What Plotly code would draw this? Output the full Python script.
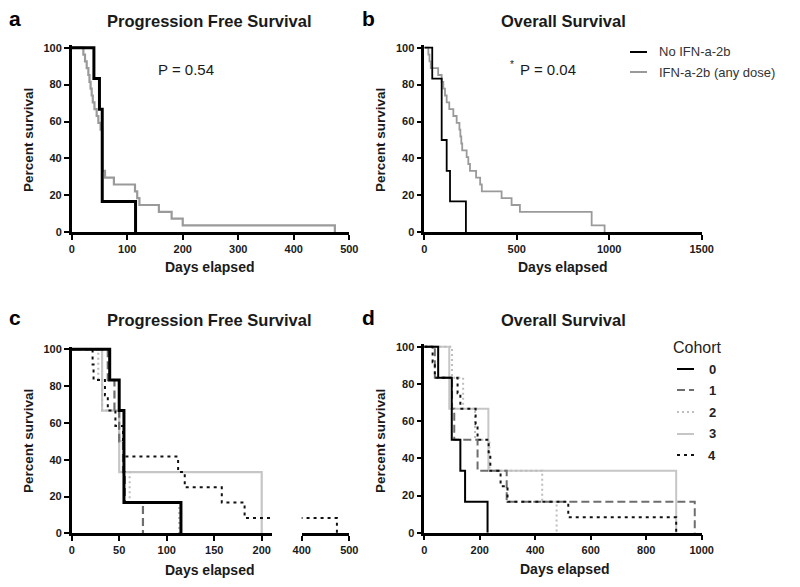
import plotly.graph_objects as go

# page body has an 8px default margin; figure is sized so it fills the 800x587 window
OFF = 8
W, H = 800 - OFF, 587 - OFF

# ---------------- data ----------------
# Panel a: Progression free survival
a_no_days = [40, 50, 55, 115]
a_no_surv = [83.3, 66.7, 16.7, 0]
a_ifn_days = [21, 24, 27, 30, 32, 34, 36, 38, 41, 45, 48, 52, 55, 60, 76, 114, 118, 122, 157, 180, 200, 474]
a_ifn_surv = [96.3, 92.6, 88.9, 85.2, 81.5, 77.8, 74.1, 70.4, 66.7, 63.0, 59.3, 55.6, 33.3, 29.6, 25.9, 22.2, 18.5, 14.8, 11.1, 7.4, 3.7, 0]

# Panel b: Overall survival
b_no_days = [43, 94, 121, 139, 225]
b_no_surv = [83.3, 50, 33.3, 16.7, 0]
b_ifn_days = [22, 28, 35, 75, 94, 103, 112, 121, 135, 157, 175, 190, 195, 200, 205, 229, 238, 247, 280, 302, 311, 418, 472, 517, 905, 975]
b_ifn_surv = [96.3, 92.6, 88.9, 85.2, 81.5, 77.8, 74.1, 70.4, 66.7, 63.0, 59.3, 55.6, 51.9, 48.1, 44.4, 40.7, 37.0, 33.3, 29.6, 25.9, 22.2, 18.5, 14.8, 11.1, 3.7, 0]

# Panel c: PFS by cohort
cohorts = ["0", "1", "2", "3", "4"]
c_days = [
    [40, 50, 55, 115],
    [38, 45, 50, 54, 56, 75],
    [28, 32, 50, 55, 61, 113],
    [32, 50, 200],
    [22, 23, 35, 38, 46, 54, 55, 112, 119, 158, 182, 474],
]
c_surv = [
    [83.3, 66.7, 16.7, 0],
    [83.3, 66.7, 50, 33.3, 16.7, 0],
    [83.3, 66.7, 50, 33.3, 16.7, 0],
    [66.7, 33.3, 0],
    [91.7, 83.3, 75, 66.7, 58.3, 50, 41.7, 33.3, 25, 16.7, 8.3, 0],
]

# Panel d: OS by cohort
d_days = [
    [50, 99, 130, 147, 228],
    [38, 100, 108, 192, 297, 975],
    [100, 140, 183, 235, 425, 477],
    [90, 231, 908],
    [30, 38, 120, 130, 185, 192, 232, 238, 275, 300, 519, 908],
]
d_surv = [
    [83.3, 50, 33.3, 16.7, 0],
    [83.3, 66.7, 50, 33.3, 16.7, 0],
    [83.3, 66.7, 50, 33.3, 16.7, 0],
    [66.7, 33.3, 0],
    [91.7, 83.3, 75, 66.7, 58.3, 50, 41.7, 33.3, 25, 16.7, 8.3, 0],
]

y_ticks = [0, 20, 40, 60, 80, 100]
a_xticks = [0, 100, 200, 300, 400, 500]
b_xticks = [0, 500, 1000, 1500]
c_xticks1 = [0, 50, 100, 150, 200]
c_xticks2 = [400, 500]
d_xticks = [0, 200, 400, 600, 800, 1000]

legend_b = ["No IFN-a-2b", "IFN-a-2b (any dose)"]

# ---------------- styles ----------------
FONT = "Liberation Sans, Arial, sans-serif"
INK = "#1a1a1a"
coh_color = ["#000000", "#6e6e6e", "#bdbdbd", "#c6c6c6", "#111111"]
coh_dash = ["solid", "8px,4px", "2px,3px", "solid", "3px,4px"]
coh_width_c = [3, 2.2, 2, 2.2, 2]
coh_width_d = [2, 2, 2, 2, 2]


def km(days, surv):
    return [0] + list(days), [100] + list(surv)


def px2x(px):
    return (px - OFF) / W


def px2y(py):
    return 1 - (py - OFF) / H


YMAX = 101.5


def ydomain(y0px, y100px):
    top = y0px - (YMAX / 100.0) * (y0px - y100px)
    return [px2y(y0px), px2y(top)]


fig = go.Figure()


def add_km(days, surv, xa, ya, color, width, dash="solid"):
    x, y = km(days, surv)
    fig.add_trace(go.Scatter(x=x, y=y, mode="lines", line_shape="hv",
                             line=dict(color=color, width=width, dash=dash),
                             xaxis=xa, yaxis=ya, showlegend=False, hoverinfo="skip"))


# panel a
add_km(a_ifn_days, a_ifn_surv, "x", "y", "#9a9a9a", 2.2)
add_km(a_no_days, a_no_surv, "x", "y", "#000000", 3)
# panel b
add_km(b_ifn_days, b_ifn_surv, "x2", "y2", "#9a9a9a", 1.8)
add_km(b_no_days, b_no_surv, "x2", "y2", "#000000", 1.8)
# panel c (broken axis: two x segments)
for i in [3, 2, 1, 4, 0]:
    for xa in ["x3", "x5"]:
        add_km(c_days[i], c_surv[i], xa, "y3", coh_color[i], coh_width_c[i], coh_dash[i])
# panel d
for i in [3, 2, 1, 4, 0]:
    add_km(d_days[i], d_surv[i], "x4", "y4", coh_color[i], coh_width_d[i], coh_dash[i])

axis_common = dict(showgrid=False, zeroline=False, showline=True, linecolor="black",
                   linewidth=2.5, ticks="outside", ticklen=5, tickwidth=2, tickcolor="black",
                   automargin=False,
                   tickfont=dict(family=FONT, size=11, color=INK, weight="bold"))

# pixel geometry of axes (window pixels)
A = dict(x0=71.7, x1=349.3, y0=232.3, y100=47.7)
B = dict(x0=424.3, x1=701.7, y0=232.3, y100=47.7)
C = dict(x0=71.7, y0=533.3, y100=349.3)
D = dict(x0=424.3, x1=701.7, y0=532.7, y100=346.7)
c_scale = 0.95  # px per day, first segment
c_seg1_max = 211
c_seg2 = (301.7, 349.3)

layout = dict(
    template="none",
    width=W, height=H, margin=dict(l=0, r=0, t=0, b=0, autoexpand=False),
    paper_bgcolor="white", plot_bgcolor="white", showlegend=False,
    xaxis=dict(axis_common, domain=[px2x(A["x0"]), px2x(A["x1"])], range=[0, 500],
               tickvals=a_xticks, anchor="y"),
    yaxis=dict(axis_common, domain=ydomain(A["y0"], A["y100"]), range=[0, YMAX],
               tickvals=y_ticks, anchor="x"),
    xaxis2=dict(axis_common, domain=[px2x(B["x0"]), px2x(B["x1"])], range=[0, 1500],
                tickvals=b_xticks, anchor="y2"),
    yaxis2=dict(axis_common, domain=ydomain(B["y0"], B["y100"]), range=[0, YMAX],
                tickvals=y_ticks, anchor="x2"),
    xaxis3=dict(axis_common, domain=[px2x(C["x0"]), px2x(C["x0"] + c_seg1_max * c_scale)],
                range=[0, c_seg1_max], tickvals=c_xticks1, anchor="y3"),
    xaxis5=dict(axis_common, domain=[px2x(c_seg2[0]), px2x(c_seg2[1])], range=[400, 500],
                tickvals=c_xticks2, anchor="y3"),
    yaxis3=dict(axis_common, domain=ydomain(C["y0"], C["y100"]), range=[0, YMAX],
                tickvals=y_ticks, anchor="x3"),
    xaxis4=dict(axis_common, domain=[px2x(D["x0"]), px2x(D["x1"])], range=[0, 1000],
                tickvals=d_xticks, anchor="y4"),
    yaxis4=dict(axis_common, domain=ydomain(D["y0"], D["y100"]), range=[0, YMAX],
                tickvals=y_ticks, anchor="x4"),
)
fig.update_layout(**layout)

ann = []


def text(px, py, s, size, bold=False, color=INK, angle=0, xanchor="center"):
    ann.append(dict(x=px2x(px), y=px2y(py), xref="paper", yref="paper", text=s,
                    showarrow=False, xanchor=xanchor, yanchor="middle", textangle=angle,
                    font=dict(family=FONT, size=size, color=color,
                              weight="bold" if bold else "normal")))


# panel letters
text(15, 18, "a", 21, True, "#000")
text(368, 18, "b", 21, True, "#000")
text(15, 317, "c", 21, True, "#000")
text(368, 317, "d", 21, True, "#000")
# titles
text(210, 21, "Progression Free Survival", 16.5, True)
text(563, 21, "Overall Survival", 16.5, True)
text(210, 320, "Progression Free Survival", 16.5, True)
text(563, 320, "Overall Survival", 16.5, True)
# axis titles
for (cx, cy) in [(210, 267), (563, 267), (210, 570), (565, 569)]:
    text(cx, cy, "Days elapsed", 14, True)
for (cx, cy) in [(28, 140), (380, 140), (28, 441), (380, 441)]:
    text(cx, cy, "Percent survival", 13.5, True, angle=-90)
# p values
text(186, 70, "P = 0.54", 15)
text(548, 70, "P = 0.04", 15)
text(512, 64, "*", 10)

# legend for b
shapes = []
leg_b_y = [52, 72]
leg_b_col = ["#000000", "#9a9a9a"]
for yy, lab, col in zip(leg_b_y, legend_b, leg_b_col):
    shapes.append(dict(type="line", xref="paper", yref="paper", x0=px2x(630), x1=px2x(647),
                       y0=px2y(yy), y1=px2y(yy), line=dict(color=col, width=2)))
    text(657, yy, lab, 13, False, "#333", xanchor="left")

# legend for d
text(697, 347, "Cohort", 16, False, "#222")
leg_d_y = [369, 390, 412, 434, 455]
for i, yy in enumerate(leg_d_y):
    shapes.append(dict(type="line", xref="paper", yref="paper", x0=px2x(677), x1=px2x(694),
                       y0=px2y(yy), y1=px2y(yy),
                       line=dict(color=coh_color[i], width=2, dash=coh_dash[i])))
    text(712, yy, cohorts[i], 13, True, "#222")

fig.update_layout(annotations=ann, shapes=shapes)
fig.write_html("out.html")
